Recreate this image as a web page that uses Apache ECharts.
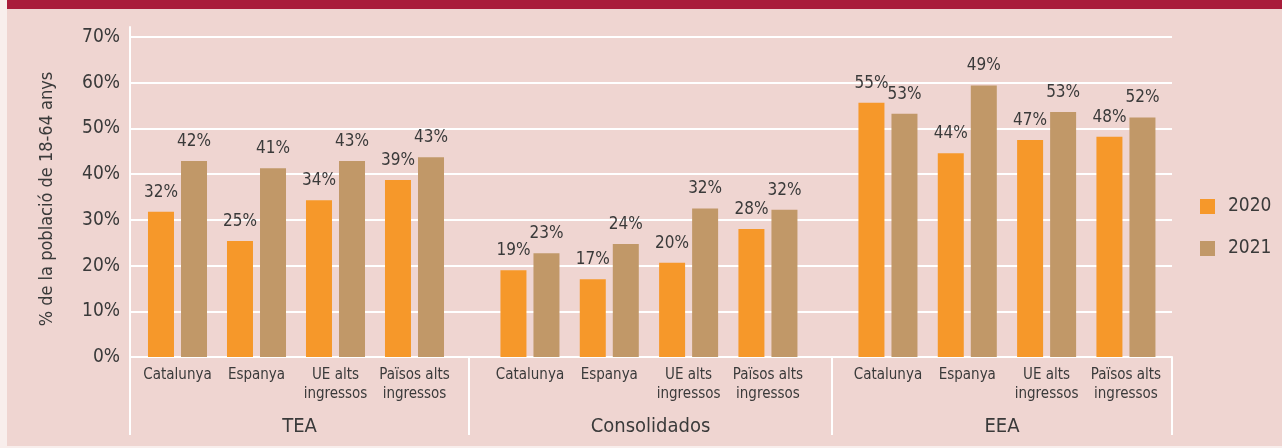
<!DOCTYPE html>
<html>
<head>
<meta charset="utf-8">
<script src="https://cdn.jsdelivr.net/npm/echarts@6/dist/echarts.min.js"></script>
<style>
html,body{margin:0;padding:0;background:#efd5d1;}
#chart{width:1282px;height:448px;}
</style>
</head>
<body>
<div id="chart"></div>
<script>
// ---- Data ----
const groups = ['TEA', 'Consolidados', 'EEA'];
const subCategories = ['Catalunya', 'Espanya', 'UE alts\ningressos', 'Països alts\ningressos'];
const seriesNames = ['2020', '2021'];
// bar heights (%) as drawn
const tea2020 = [31.8, 25.4, 34.3, 38.7];
const tea2021 = [42.9, 41.3, 42.9, 43.7];
const cons2020 = [19.0, 17.0, 20.6, 28.0];
const cons2021 = [22.7, 24.7, 32.5, 32.2];
const eea2020 = [55.6, 44.6, 47.5, 48.2];
const eea2021 = [53.2, 59.4, 53.6, 52.4];
// printed value labels (%)
const teaLbl2020 = [32, 25, 34, 39];
const teaLbl2021 = [42, 41, 43, 43];
const consLbl2020 = [19, 17, 20, 28];
const consLbl2021 = [23, 24, 32, 32];
const eeaLbl2020 = [55, 44, 47, 48];
const eeaLbl2021 = [53, 49, 53, 52];
const yTicks = [0, 10, 20, 30, 40, 50, 60, 70];

const FONT = "'Liberation Sans Narrow', 'Arial Narrow', 'DejaVu Sans Condensed', sans-serif";
const TXT = '#3a3a3a';
const C2020 = '#f6982a';
const C2021 = '#c19868';
const WHITE = '#ffffff';

const chart = echarts.init(document.getElementById('chart'), null, {renderer: 'canvas'});

const TOP = 27, HEIGHT = 330;
const outer = [[130, 339], [469, 363], [832, 340]];
const inner = [[138, 316], [490.3, 317.3], [848.3, 317.3]];
const grids = [];
outer.concat(inner).forEach(([l, w]) => grids.push({left: l, width: w, top: TOP, height: HEIGHT, containLabel: false}));

const xAxes = [];
const yAxes = [];
groups.forEach((g, i) => {
  xAxes.push({
    type: 'category', gridIndex: i, data: [g],
    axisLine: {show: true, lineStyle: {color: WHITE, width: 2}},
    axisTick: {show: true, length: 78, lineStyle: {color: WHITE, width: 2}},
    axisLabel: {margin: 60, fontSize: 20, color: TXT, fontFamily: FONT},
    z: 1
  });
  yAxes.push({
    type: 'value', gridIndex: i, min: 0, max: 72.2, interval: 10,
    axisLine: {show: i === 0, lineStyle: {color: WHITE, width: 2}},
    axisTick: {show: false},
    axisLabel: {show: i === 0, formatter: '{value}%', fontSize: 19, color: TXT, fontFamily: FONT, margin: 10, showMaxLabel: false},
    splitLine: {show: true, showMaxLine: false, lineStyle: {color: WHITE, width: 2}},
    name: i === 0 ? '% de la població de 18-64 anys' : '',
    nameLocation: 'middle', nameGap: 74, nameRotate: 90,
    nameTextStyle: {fontSize: 18, color: TXT, fontFamily: FONT, padding: [0, 14, 0, 0]}
  });
});
groups.forEach((g, i) => {
  xAxes.push({
    type: 'category', gridIndex: 3 + i, data: subCategories,
    axisLine: {show: false}, axisTick: {show: false},
    axisLabel: {margin: 9, fontSize: 15, lineHeight: 19, color: TXT, fontFamily: FONT, interval: 0}
  });
  yAxes.push({
    type: 'value', gridIndex: 3 + i, min: 0, max: 72.2, interval: 10,
    show: false, splitLine: {show: false}
  });
});

const barData = [[tea2020, tea2021], [cons2020, cons2021], [eea2020, eea2021]];
const lblData = [[teaLbl2020, teaLbl2021], [consLbl2020, consLbl2021], [eeaLbl2020, eeaLbl2021]];
const colors = [C2020, C2021];
const series = [];
groups.forEach((g, i) => {
  seriesNames.forEach((s, k) => {
    const lbls = lblData[i][k];
    series.push({
      type: 'bar', name: s,
      xAxisIndex: 3 + i, yAxisIndex: 3 + i,
      data: barData[i][k],
      barWidth: 26, barGap: '27%',
      itemStyle: {color: colors[k]},
      label: {show: true, position: 'top', distance: 11, fontSize: 17, color: TXT, fontFamily: FONT,
        formatter: p => lbls[p.dataIndex] + '%'},
      emphasis: {disabled: true},
      animation: false,
      z: 3
    });
  });
});

chart.setOption({
  backgroundColor: '#efd5d1',
  animation: false,
  textStyle: {fontFamily: FONT},
  graphic: [
    {type: 'rect', left: 0, top: 0, shape: {width: 7, height: 448}, style: {fill: '#f8eeec'}, silent: true},
    {type: 'rect', left: 7, top: 0, shape: {width: 1275, height: 9}, style: {fill: '#a91c3a'}, silent: true},
    {type: 'rect', left: 7, top: 446, shape: {width: 1275, height: 2}, style: {fill: '#f8eeec'}, silent: true}
  ],
  legend: {
    data: seriesNames, orient: 'vertical', left: 1200, top: 197, padding: 0,
    icon: 'rect', itemWidth: 15, itemHeight: 15, itemGap: 23,
    textStyle: {fontSize: 19, color: TXT, fontFamily: FONT, padding: [0, 0, 0, 8]},
    selectedMode: false
  },
  grid: grids,
  xAxis: xAxes,
  yAxis: yAxes,
  series: series
});
</script>
</body>
</html>
